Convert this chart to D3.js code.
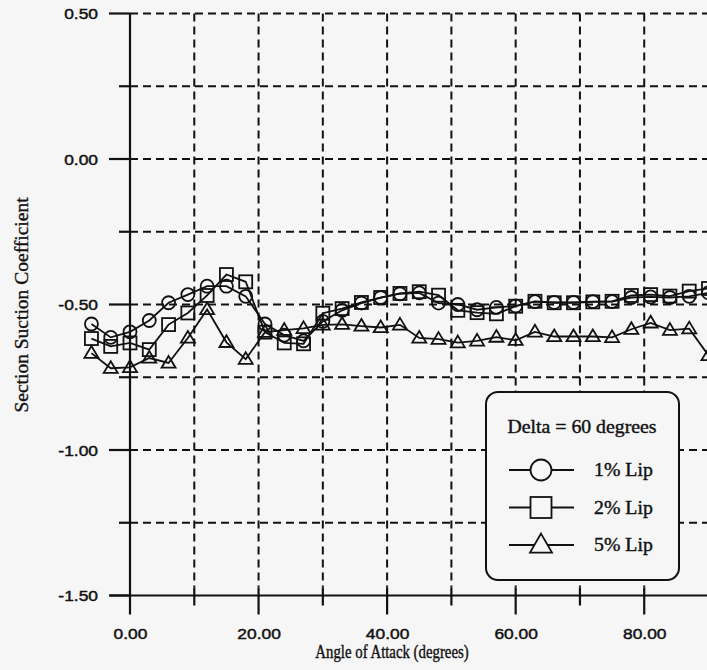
<!DOCTYPE html>
<html>
<head>
<meta charset="utf-8">
<script src="https://cdn.jsdelivr.net/npm/d3@7/dist/d3.min.js"></script>
<style>
  html, body { margin: 0; padding: 0; background: #f6f6f6; }
  svg { display: block; }
</style>
</head>
<body>
<svg id="chart" width="707" height="670"></svg>
<script>
// Angle of attack (degrees) at which the section suction was measured
const angles = [-6, -3, 0, 3, 6, 9, 12, 15, 18, 21, 24, 27, 30, 33, 36, 39, 42, 45,
                48, 51, 54, 57, 60, 63, 66, 69, 72, 75, 78, 81, 84, 87, 90];

// Section suction coefficient for each lip size
const lip1 = [-0.567, -0.613, -0.594, -0.555, -0.494, -0.466, -0.437, -0.437, -0.472, -0.567, -0.605,
              -0.625, -0.558, -0.520, -0.495, -0.476, -0.463, -0.460, -0.495, -0.500, -0.518, -0.510,
              -0.505, -0.490, -0.493, -0.493, -0.490, -0.490, -0.476, -0.474, -0.476, -0.472, -0.460];
const lip2 = [-0.617, -0.644, -0.632, -0.655, -0.569, -0.529, -0.469, -0.397, -0.422, -0.595, -0.632,
              -0.635, -0.530, -0.514, -0.493, -0.476, -0.462, -0.456, -0.468, -0.520, -0.528, -0.532,
              -0.506, -0.489, -0.494, -0.494, -0.491, -0.489, -0.469, -0.466, -0.471, -0.454, -0.445];
const lip5 = [-0.667, -0.719, -0.716, -0.684, -0.701, -0.615, -0.517, -0.630, -0.688, -0.595, -0.588,
              -0.582, -0.570, -0.568, -0.574, -0.579, -0.570, -0.615, -0.619, -0.631, -0.625, -0.612,
              -0.623, -0.594, -0.610, -0.610, -0.610, -0.613, -0.585, -0.563, -0.588, -0.583, -0.675];

const seriesNames = ["1% Lip", "2% Lip", "5% Lip"];
const seriesSymbols = ["circle", "square", "triangle"];
const legendTitle = "Delta = 60 degrees";

const xTicks = [0, 10, 20, 30, 40, 50, 60, 70, 80, 90];
const xLabelTicks = [0, 20, 40, 60, 80];
const yTicks = [0.5, 0.25, 0, -0.25, -0.5, -0.75, -1.0, -1.25, -1.5];
const yLabelTicks = [0.5, 0, -0.5, -1.0, -1.5];

const xTitle = "Angle of Attack (degrees)";
const yTitle = "Section Suction Coefficient";

const BG = "#f6f6f6";
const INK = "#111";
const STRETCH = 1.16;   // tick labels are set slightly extended
const SANS = "'Liberation Sans', Arial, sans-serif";
const SERIF = "'Liberation Serif', 'Times New Roman', serif";
const fmt = d => d.toFixed(2);   // plain hyphen for negatives

const svg = d3.select("#chart");
svg.append("rect").attr("width", 707).attr("height", 670).attr("fill", BG);

const x = d3.scaleLinear().domain([0, 90]).range([130, 708.5]);
const y = d3.scaleLinear().domain([-1.5, 0.5]).range([595.5, 13.5]);

const x0 = x(0), yBase = y(-1.5), rightEdge = 707;

// heavier type, as printed
function ink(sel, w) {
  return sel.attr("fill", INK).attr("stroke", INK).attr("stroke-width", w)
    .attr("paint-order", "stroke");
}

// dashed grid
const grid = svg.append("g").attr("stroke", INK).attr("stroke-width", 2)
  .attr("stroke-dasharray", "8,5").attr("fill", "none");
grid.selectAll("line.h").data(yTicks.filter(v => v > -1.5)).join("line")
  .attr("x1", x0).attr("x2", rightEdge)
  .attr("y1", d => y(d)).attr("y2", d => y(d));
grid.selectAll("line.v").data(xTicks.filter(v => v > 0)).join("line")
  .attr("x1", d => x(d)).attr("x2", d => x(d))
  .attr("y1", y(0.5)).attr("y2", yBase - 8);

// axis frame and tick marks
const ax = svg.append("g").attr("stroke", INK).attr("stroke-width", 2.2).attr("fill", "none");
ax.append("line").attr("x1", x0).attr("x2", x0).attr("y1", y(0.5)).attr("y2", yBase + 19);
ax.append("line").attr("x1", 110).attr("x2", rightEdge).attr("y1", yBase).attr("y2", yBase);
ax.selectAll("line.yt").data(yTicks).join("line")
  .attr("x1", d => x0 - (yLabelTicks.includes(d) ? 21 : 11)).attr("x2", x0)
  .attr("y1", d => y(d)).attr("y2", d => y(d));
ax.selectAll("line.xt").data(xTicks.filter(v => v > 0)).join("line")
  .attr("x1", d => x(d)).attr("x2", d => x(d))
  .attr("y1", yBase - 8).attr("y2", d => yBase + (xLabelTicks.includes(d) ? 19 : 10));

// tick labels through d3 axes
const yAxis = d3.axisLeft(y).tickValues(yLabelTicks).tickFormat(fmt)
  .tickSize(0).tickPadding(0);
const gy = svg.append("g").attr("transform", `translate(${x0 - 32},0)`).call(yAxis);
gy.select(".domain").remove();
ink(gy.selectAll("text").attr("x", 0).attr("dy", "0.36em")
  .attr("font-family", SANS).attr("font-size", 15)
  .attr("transform", `scale(${STRETCH},1)`), 0.45);

const xAxis = d3.axisBottom(x).tickValues(xLabelTicks).tickFormat(fmt)
  .tickSize(0).tickPadding(0);
const gx = svg.append("g").attr("transform", `translate(0,${yBase + 43})`).call(xAxis);
gx.select(".domain").remove();
ink(gx.selectAll("text").attr("y", 0).attr("dy", 0)
  .attr("font-family", SANS).attr("font-size", 15)
  .attr("transform", `scale(${STRETCH},1)`), 0.45);

// axis titles
ink(svg.append("text").attr("transform", "translate(392,658) scale(0.8,1)")
  .attr("text-anchor", "middle").attr("font-family", SERIF).attr("font-size", 18.5)
  .text(xTitle), 0.4);
ink(svg.append("text").attr("transform", "translate(28,305) rotate(-90)")
  .attr("text-anchor", "middle").attr("font-family", SERIF).attr("font-size", 19.5)
  .text(yTitle), 0.35);

// marker shapes
function marker(sel, kind, s) {
  if (kind === "circle") {
    sel.append("circle").attr("r", s / 2);
  } else if (kind === "square") {
    sel.append("rect").attr("x", -s / 2).attr("y", -s / 2).attr("width", s).attr("height", s);
  } else {
    const h = s * 0.9;
    sel.append("path").attr("d", `M0,${-h * 0.6}L${s / 2 + 0.5},${h * 0.4}L${-s / 2 - 0.5},${h * 0.4}Z`);
  }
}

// data series
const allSeries = [lip1, lip2, lip5];
const line = d3.line().x(d => x(d[0])).y(d => y(d[1]));
allSeries.forEach((vals, i) => {
  const pts = angles.map((a, j) => [a, vals[j]]);
  const g = svg.append("g").attr("stroke", INK).attr("fill", "none").attr("stroke-width", 1.8);
  g.append("path").attr("d", line(pts));
  g.selectAll("g.m").data(pts).join("g")
    .attr("transform", d => `translate(${x(d[0])},${y(d[1])})`)
    .each(function () { marker(d3.select(this), seriesSymbols[i], 13); });
});

// legend
const lg = svg.append("g");
lg.append("rect").attr("x", 486).attr("y", 392).attr("width", 193).attr("height", 188)
  .attr("rx", 12).attr("ry", 12).attr("fill", BG).attr("stroke", INK).attr("stroke-width", 2);
ink(lg.append("text").attr("transform", "translate(582,433) scale(1.07,1)")
  .attr("text-anchor", "middle").attr("font-family", SERIF).attr("font-size", 18.5)
  .text(legendTitle), 0.4);
const rowY = [470, 507.5, 545];
seriesNames.forEach((name, i) => {
  const row = lg.append("g").attr("transform", `translate(0,${rowY[i]})`);
  row.append("line").attr("x1", 509).attr("x2", 574).attr("y1", 0).attr("y2", 0)
    .attr("stroke", INK).attr("stroke-width", 1.8);
  const m = row.append("g").attr("transform", "translate(541,0)")
    .attr("fill", BG).attr("stroke", INK).attr("stroke-width", 1.8);
  marker(m, seriesSymbols[i], 21);
  ink(row.append("text").attr("transform", "translate(594,6) scale(1.07,1)")
    .attr("font-family", SERIF).attr("font-size", 18.5).text(name), 0.4);
});
</script>
</body>
</html>
